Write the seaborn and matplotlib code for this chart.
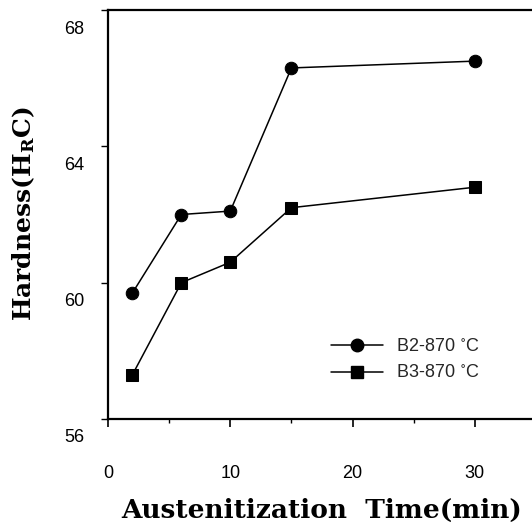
import matplotlib
matplotlib.use("Agg")
import matplotlib.pyplot as plt
import matplotlib.transforms as mtransforms
from matplotlib.lines import Line2D
import seaborn as sns
import pandas as pd

# Data
time_min = [2, 6, 10, 15, 30]
b2_hardness = [59.7, 62.0, 62.1, 66.3, 66.5]
b3_hardness = [57.3, 60.0, 60.6, 62.2, 62.8]
series_labels = ["B2-870 $^{\\circ}$C", "B3-870 $^{\\circ}$C"]
x_ticks = [0, 10, 20, 30]
y_ticks = [56, 60, 64, 68]

df = pd.DataFrame({
    "time": time_min * 2,
    "hardness": b2_hardness + b3_hardness,
    "series": [series_labels[0]] * len(time_min) + [series_labels[1]] * len(time_min),
})

sns.set_theme(style="white")
plt.rcParams["font.family"] = ["Liberation Sans", "DejaVu Sans"]
plt.rcParams["mathtext.fontset"] = "dejavuserif"

fig = plt.figure(figsize=(5.32, 5.28), dpi=100)
ax = fig.add_axes([108 / 532, (528 - 419) / 528, 428 / 532, 409 / 528])

sns.lineplot(data=df, x="time", y="hardness", hue="series", style="series",
             markers={series_labels[0]: "o", series_labels[1]: "s"}, dashes=False,
             palette={series_labels[0]: "black", series_labels[1]: "black"},
             markersize=9, linewidth=1.1, markeredgecolor="black", ax=ax, legend=False)

ax.set_xlim(0, 35)
ax.set_ylim(56, 68)
ax.set_xticks(x_ticks)
ax.set_xticks([5, 15, 25], minor=True)
ax.set_yticks(y_ticks)

for side in ["left", "bottom", "top"]:
    ax.spines[side].set_visible(True)
    ax.spines[side].set_color("black")
    ax.spines[side].set_linewidth(1.6)
ax.spines["right"].set_visible(False)

ax.tick_params(axis="x", which="major", direction="out", length=6, width=1.2,
               bottom=True, pad=27, labelsize=13, colors="black")
ax.tick_params(axis="x", which="minor", direction="out", length=3, width=1.0,
               bottom=True, colors="black")
ax.tick_params(axis="y", which="major", direction="out", length=5, width=1.0,
               left=True, pad=12, labelsize=13, colors="black")

offset = mtransforms.ScaledTranslation(0, -17 / 100, fig.dpi_scale_trans)
for lbl in ax.get_yticklabels():
    lbl.set_transform(lbl.get_transform() + offset)

ax.set_xlabel("Austenitization  Time(min)", family="DejaVu Serif", fontweight="bold",
              fontsize=19, color="black", va="baseline")
ax.xaxis.set_label_coords((322 - 108) / 428, (419 - 518) / 409)
ax.set_ylabel("Hardness(H$_{\\mathbf{R}}$C)", family="DejaVu Serif", fontweight="bold",
              fontsize=18, color="black", va="center")
ax.yaxis.set_label_coords((24 - 108) / 428, (419 - 214) / 409)

handles = [
    Line2D([], [], color="black", marker="o", markersize=9, linewidth=1.1),
    Line2D([], [], color="black", marker="s", markersize=8, linewidth=1.1),
]
ax.legend(handles, series_labels, loc="upper left", bbox_to_anchor=(0.503, 0.215),
          frameon=False, fontsize=13, handlelength=2.9, handletextpad=0.7,
          labelspacing=0.5, borderaxespad=0)

fig.savefig("out.png", dpi=100)
